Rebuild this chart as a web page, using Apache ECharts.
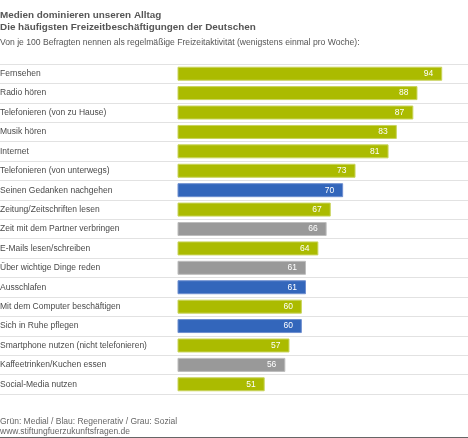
<!DOCTYPE html>
<html><head><meta charset="utf-8">
<script src="https://cdn.jsdelivr.net/npm/echarts@6/dist/echarts.min.js"></script>
<style>html,body{margin:0;padding:0;background:#fff}#c{width:468px;height:438px}</style>
</head><body><div id="c"></div>
<script>
const categories = ["Fernsehen","Radio hören","Telefonieren (von zu Hause)","Musik hören","Internet","Telefonieren (von unterwegs)","Seinen Gedanken nachgehen","Zeitung/Zeitschriften lesen","Zeit mit dem Partner verbringen","E-Mails lesen/schreiben","Über wichtige Dinge reden","Ausschlafen","Mit dem Computer beschäftigen","Sich in Ruhe pflegen","Smartphone nutzen (nicht telefonieren)","Kaffeetrinken/Kuchen essen","Social-Media nutzen"];
const values = [94,88,87,83,81,73,70,67,66,64,61,61,60,60,57,56,51];
const groups = ["Medial","Medial","Medial","Medial","Medial","Medial","Regenerativ","Medial","Sozial","Medial","Sozial","Regenerativ","Medial","Regenerativ","Medial","Sozial","Medial"];
const groupColors = {Medial:"#abbb00", Regenerativ:"#3366bb", Sozial:"#999999"};
const groupBorders = {Medial:"#c9d45c", Regenerativ:"#6f8fd0", Sozial:"#bdbdbd"};

const chart = echarts.init(document.getElementById('c'));
const font = '"Liberation Sans", Arial, sans-serif';
chart.setOption({
  animation:false,
  textStyle:{fontFamily:font},
  title:[
    {text:'Medien dominieren unseren Alltag\nDie häufigsten Freizeitbeschäftigungen der Deutschen', left:0, top:9.5, padding:0,
     textStyle:{fontSize:9.9, fontWeight:'bold', color:'#555', lineHeight:12, fontFamily:font}},
    {text:'Von je 100 Befragten nennen als regelmäßige Freizeitaktivität (wenigstens einmal pro Woche):', left:0, top:38, padding:0,
     textStyle:{fontSize:8.6, fontWeight:'normal', color:'#555', lineHeight:10, fontFamily:font}},
    {text:'Grün: Medial / Blau: Regenerativ / Grau: Sozial\nwww.stiftungfuerzukunftsfragen.de', left:0, top:417, padding:0,
     textStyle:{fontSize:8.5, fontWeight:'normal', color:'#666', lineHeight:9.5, fontFamily:font}}
  ],
  grid:[
    {left:0, right:0, top:64, bottom:44, containLabel:false, outerBoundsMode:'none'},
    {left:178, right:1, top:64, bottom:44, containLabel:false, outerBoundsMode:'none'}
  ],
  xAxis:[
    {gridIndex:0, type:'value', show:false, min:0, max:1},
    {gridIndex:1, type:'value', min:30, max:100, show:false}
  ],
  yAxis:[
    {gridIndex:0, type:'category', data:categories, inverse:true,
     axisLine:{show:false}, axisTick:{show:false}, axisLabel:{show:false},
     splitLine:{show:true, lineStyle:{color:'#e2e2e2', width:1}}},
    {gridIndex:1, type:'category', data:categories, inverse:true,
     axisLine:{show:false}, axisTick:{show:false}, splitLine:{show:false},
     axisLabel:{margin:178, align:'left', fontSize:8.5, color:'#4a4a4a', padding:[2,0,0,0], fontFamily:font}}
  ],
  graphic:[{type:'line', shape:{x1:0,y1:437.5,x2:468,y2:437.5}, style:{stroke:'#666', lineWidth:1}}],
  series:[{
    type:'bar', xAxisIndex:1, yAxisIndex:1, barWidth:14,
    data: values.map((v,i)=>({value:v, itemStyle:{color:groupColors[groups[i]], borderColor:groupBorders[groups[i]], borderWidth:1}})),
    label:{show:true, position:'insideRight', distance:9, color:'#fff', fontSize:8.5, fontFamily:font}
  }]
});
</script></body></html>
